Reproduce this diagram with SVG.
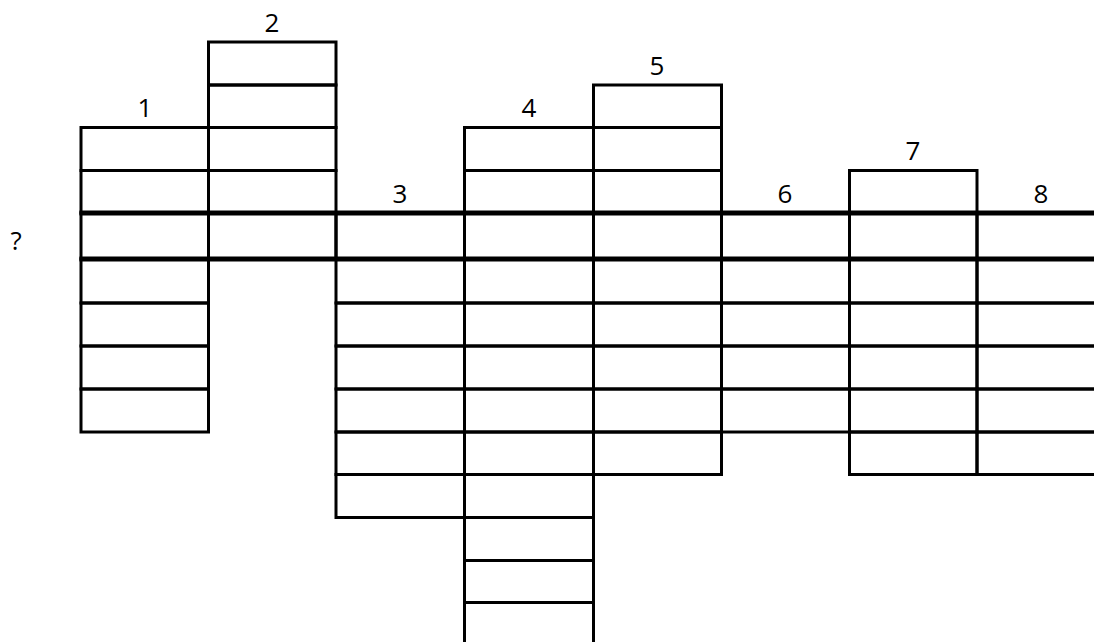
<svg xmlns="http://www.w3.org/2000/svg" width="1094" height="642" viewBox="0 0 1094 642">
<style>
.c{fill:none;stroke:#000;stroke-width:3}
.t{stroke:#000;stroke-width:5}
.l{font-family:"Open Sans","Liberation Sans",sans-serif;font-size:26px;fill:#000;text-anchor:middle}
</style>
<rect width="1094" height="642" fill="#fff"/>
<g id="col1">
<rect class="c" x="81" y="127.5" width="127.5" height="43"/>
<rect class="c" x="81" y="170.5" width="127.5" height="42.5"/>
<rect class="c" x="81" y="213" width="127.5" height="46"/>
<rect class="c" x="81" y="259" width="127.5" height="44"/>
<rect class="c" x="81" y="303" width="127.5" height="43"/>
<rect class="c" x="81" y="346" width="127.5" height="43"/>
<rect class="c" x="81" y="389" width="127.5" height="43"/>
<text class="l" x="145" y="117">1</text>
</g>
<g id="col2">
<rect class="c" x="208.5" y="42" width="127.5" height="43"/>
<rect class="c" x="208.5" y="85" width="127.5" height="42.5"/>
<rect class="c" x="208.5" y="127.5" width="127.5" height="43"/>
<rect class="c" x="208.5" y="170.5" width="127.5" height="42.5"/>
<rect class="c" x="208.5" y="213" width="127.5" height="46"/>
<text class="l" x="272" y="32">2</text>
</g>
<g id="col3">
<rect class="c" x="336" y="213" width="128.5" height="46"/>
<rect class="c" x="336" y="259" width="128.5" height="44"/>
<rect class="c" x="336" y="303" width="128.5" height="43"/>
<rect class="c" x="336" y="346" width="128.5" height="43"/>
<rect class="c" x="336" y="389" width="128.5" height="43"/>
<rect class="c" x="336" y="432" width="128.5" height="42.5"/>
<rect class="c" x="336" y="474.5" width="128.5" height="43"/>
<text class="l" x="400" y="203">3</text>
</g>
<g id="col4">
<rect class="c" x="464.5" y="127.5" width="129" height="43"/>
<rect class="c" x="464.5" y="170.5" width="129" height="42.5"/>
<rect class="c" x="464.5" y="213" width="129" height="46"/>
<rect class="c" x="464.5" y="259" width="129" height="44"/>
<rect class="c" x="464.5" y="303" width="129" height="43"/>
<rect class="c" x="464.5" y="346" width="129" height="43"/>
<rect class="c" x="464.5" y="389" width="129" height="43"/>
<rect class="c" x="464.5" y="432" width="129" height="42.5"/>
<rect class="c" x="464.5" y="474.5" width="129" height="43"/>
<rect class="c" x="464.5" y="517.5" width="129" height="43"/>
<rect class="c" x="464.5" y="560.5" width="129" height="42"/>
<rect class="c" x="464.5" y="602.5" width="129" height="60"/>
<text class="l" x="529" y="117">4</text>
</g>
<g id="col5">
<rect class="c" x="593.5" y="85" width="128" height="42.5"/>
<rect class="c" x="593.5" y="127.5" width="128" height="43"/>
<rect class="c" x="593.5" y="170.5" width="128" height="42.5"/>
<rect class="c" x="593.5" y="213" width="128" height="46"/>
<rect class="c" x="593.5" y="259" width="128" height="44"/>
<rect class="c" x="593.5" y="303" width="128" height="43"/>
<rect class="c" x="593.5" y="346" width="128" height="43"/>
<rect class="c" x="593.5" y="389" width="128" height="43"/>
<rect class="c" x="593.5" y="432" width="128" height="42.5"/>
<text class="l" x="657" y="75">5</text>
</g>
<g id="col6">
<rect class="c" x="721.5" y="213" width="128" height="46"/>
<rect class="c" x="721.5" y="259" width="128" height="44"/>
<rect class="c" x="721.5" y="303" width="128" height="43"/>
<rect class="c" x="721.5" y="346" width="128" height="43"/>
<rect class="c" x="721.5" y="389" width="128" height="43"/>
<text class="l" x="785" y="203">6</text>
</g>
<g id="col7">
<rect class="c" x="849.5" y="170.5" width="127.5" height="42.5"/>
<rect class="c" x="849.5" y="213" width="127.5" height="46"/>
<rect class="c" x="849.5" y="259" width="127.5" height="44"/>
<rect class="c" x="849.5" y="303" width="127.5" height="43"/>
<rect class="c" x="849.5" y="346" width="127.5" height="43"/>
<rect class="c" x="849.5" y="389" width="127.5" height="43"/>
<rect class="c" x="849.5" y="432" width="127.5" height="42.5"/>
<text class="l" x="913" y="160">7</text>
</g>
<g id="col8">
<rect class="c" x="977" y="213" width="130" height="46"/>
<rect class="c" x="977" y="259" width="130" height="44"/>
<rect class="c" x="977" y="303" width="130" height="43"/>
<rect class="c" x="977" y="346" width="130" height="43"/>
<rect class="c" x="977" y="389" width="130" height="43"/>
<rect class="c" x="977" y="432" width="130" height="42.5"/>
<text class="l" x="1041" y="203">8</text>
</g>
<g id="answer-row">
<line class="t" x1="79.5" y1="213" x2="1094" y2="213"/>
<line class="t" x1="79.5" y1="259" x2="1094" y2="259"/>
<text class="l" x="16" y="250">?</text>
</g>
</svg>
